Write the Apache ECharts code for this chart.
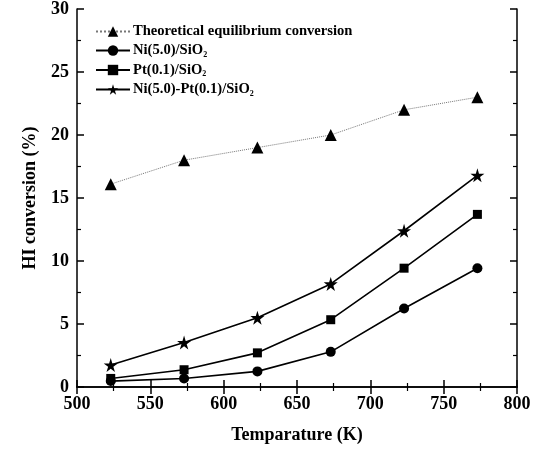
<!DOCTYPE html>
<html>
<head>
<meta charset="utf-8">
<script src="https://cdn.jsdelivr.net/npm/echarts@6/dist/echarts.min.js"></script>
<style>
  html, body { margin: 0; padding: 0; background: #fff; }
  #chart { width: 540px; height: 449px; }
</style>
</head>
<body>
<div id="chart"></div>
<script>
// temperatures (K)
const temps = [523, 573, 623, 673, 723, 773];
const theoretical = [16.1, 18.0, 19.0, 20.0, 22.0, 23.0];
const niSio2 = [0.47, 0.68, 1.24, 2.79, 6.23, 9.43];
const ptSio2 = [0.68, 1.37, 2.71, 5.34, 9.43, 13.7];
const niPtSio2 = [1.74, 3.53, 5.5, 8.18, 12.4, 16.8];
const seriesNames = [
  'Theoretical equilibrium conversion',
  'Ni(5.0)/SiO2',
  'Pt(0.1)/SiO2',
  'Ni(5.0)-Pt(0.1)/SiO2'
];

const FONT = '"Liberation Serif", "DejaVu Serif", serif';
const STAR = 'path://M50,0 L61,35 L98,35 L68,57 L79,91 L50,70 L21,91 L32,57 L2,35 L39,35 Z';

function pairs(vals) {
  return temps.map((t, i) => [t, vals[i]]);
}

const chart = echarts.init(document.getElementById('chart'), null, { renderer: 'canvas' });

const tickCommon = {
  axisLine: { show: true, lineStyle: { color: '#000', width: 1.5 } },
  axisTick: { show: true, inside: true, length: 7, lineStyle: { color: '#000', width: 1.5 } },
  minorTick: { show: true, splitNumber: 2, length: 4, lineStyle: { color: '#000', width: 1.2 } },
  splitLine: { show: false }
};

const option = {
  animation: false,
  backgroundColor: '#fff',
  grid: { left: 77, right: 23, top: 9, bottom: 59 },
  legend: {
    orient: 'vertical',
    left: 90,
    top: 19,
    itemGap: 4,
    itemWidth: 34,
    itemHeight: 13,
    data: seriesNames,
    formatter: function (name) {
      if (name.endsWith('SiO2')) {
        return '{n|' + name.slice(0, -1) + '}{s|2}';
      }
      return '{n|' + name + '}';
    },
    textStyle: {
      color: '#000',
      padding: [0, 0, 0, -2],
      rich: {
        n: { fontFamily: FONT, fontWeight: 'bold', fontSize: 14.6, color: '#000' },
        s: { fontFamily: FONT, fontWeight: 'bold', fontSize: 8, color: '#000', verticalAlign: 'bottom', padding: [8, 0, 0, 0] }
      }
    }
  },
  xAxis: [
    Object.assign({
      type: 'value',
      min: 500, max: 800, interval: 50,
      name: 'Temparature (K)',
      nameLocation: 'middle',
      nameGap: 39,
      nameTextStyle: { fontFamily: FONT, fontWeight: 'bold', fontSize: 18, color: '#000' },
      axisLabel: { fontFamily: FONT, fontWeight: 'bold', fontSize: 18, color: '#000', margin: 8 }
    }, tickCommon),
    Object.assign({
      type: 'value', position: 'top',
      min: 500, max: 800, interval: 50,
      axisLabel: { show: false }
    }, tickCommon)
  ],
  yAxis: [
    Object.assign({
      type: 'value',
      min: 0, max: 30, interval: 5,
      name: 'HI conversion (%)',
      nameLocation: 'middle',
      nameGap: 38,
      nameTextStyle: { fontFamily: FONT, fontWeight: 'bold', fontSize: 18, color: '#000' },
      axisLabel: { fontFamily: FONT, fontWeight: 'bold', fontSize: 18, color: '#000', margin: 8 }
    }, tickCommon),
    Object.assign({
      type: 'value', position: 'right',
      min: 0, max: 30, interval: 5,
      axisLabel: { show: false }
    }, tickCommon)
  ],
  series: [
    {
      name: seriesNames[0], type: 'line', data: pairs(theoretical),
      symbol: 'triangle', symbolSize: 12,
      itemStyle: { color: '#000' },
      lineStyle: { color: '#777', width: 1, type: 'dotted' }
    },
    {
      name: seriesNames[1], type: 'line', data: pairs(niSio2),
      symbol: 'circle', symbolSize: 10,
      itemStyle: { color: '#000' },
      lineStyle: { color: '#000', width: 1.6 }
    },
    {
      name: seriesNames[2], type: 'line', data: pairs(ptSio2),
      symbol: 'rect', symbolSize: 9,
      itemStyle: { color: '#000' },
      lineStyle: { color: '#000', width: 1.6 }
    },
    {
      name: seriesNames[3], type: 'line', data: pairs(niPtSio2),
      symbol: STAR, symbolSize: 14,
      itemStyle: { color: '#000' },
      lineStyle: { color: '#000', width: 1.6 }
    }
  ]
};

chart.setOption(option);
</script>
</body>
</html>
